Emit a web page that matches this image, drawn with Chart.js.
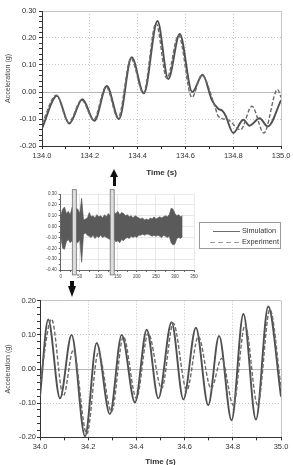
<!DOCTYPE html>
<html>
<head>
<meta charset="utf-8">
<script src="https://cdn.jsdelivr.net/npm/chart.js@4.4.0/dist/chart.umd.min.js"></script>
<style>
  html, body { margin: 0; padding: 0; background: #fff; }
  body { width: 293px; height: 465px; position: relative; overflow: hidden; font-family: "Liberation Sans", Arial, sans-serif; }
  canvas { position: absolute; left: 0; }
  #topChart { top: 0; }
  #overviewChart { top: 185px; }
  #bottomChart { top: 290px; }
  #legend { position: absolute; left: 199px; top: 222px; width: 80px; height: 25px; border: 1px solid #9a9a9a; background: #fff; will-change: transform; -webkit-font-smoothing: antialiased; }
  #legend .ln { position: absolute; left: 13px; width: 27px; height: 1px; }
  #legend .solid { top: 8px; background: #6a6a6a; }
  #legend .dash { top: 19px; left: 10px; width: 30px; background: repeating-linear-gradient(to right, #9a9a9a 0 5px, transparent 5px 8px); }
  #legend .tx { position: absolute; left: 42px; font-size: 7.3px; color: #333; line-height: 1; }
  .shaft { position: absolute; background: #111; }
  .head { position: absolute; width: 0; height: 0; border-left: 4.5px solid transparent; border-right: 4.5px solid transparent; }
  #upHead { left: 109.8px; top: 169px; border-bottom: 8px solid #111; }
  #upShaft { left: 112.6px; top: 176.5px; width: 3.4px; height: 9.5px; }
  #downShaft { left: 70.3px; top: 280.5px; width: 3.4px; height: 6px; }
  #downHead { left: 67.5px; top: 286px; border-top: 11px solid #111; }
</style>
</head>
<body>
<canvas id="topChart" width="293" height="185"></canvas>
<canvas id="overviewChart" width="200" height="100"></canvas>
<canvas id="bottomChart" width="293" height="180"></canvas>

<div id="legend">
  <div class="ln solid"></div><div class="tx" style="top:4px">Simulation</div>
  <div class="ln dash"></div><div class="tx" style="top:15px">Experiment</div>
</div>
<div class="head" id="upHead"></div><div class="shaft" id="upShaft"></div>
<div class="shaft" id="downShaft"></div><div class="head" id="downHead"></div>

<script>
// window 134-135 s (top chart), peaks and troughs
const topSimTime = [134.000, 134.0625, 134.114, 134.169, 134.219, 134.271, 134.322, 134.375, 134.426, 134.483, 134.528, 134.576, 134.628, 134.672, 134.710, 134.737, 134.755, 134.768, 134.800, 134.842, 134.868, 134.910, 134.944, 135.000];
const topSimAcc  = [-0.135, -0.014, -0.117, -0.027, -0.107, 0.022, -0.100, 0.129, -0.005, 0.263, 0.048, 0.215, 0.000, 0.064, -0.029, -0.062, -0.070, -0.088, -0.152, -0.103, -0.125, -0.097, -0.128, -0.030];
const topExpTime = [134.000, 134.060, 134.111, 134.166, 134.216, 134.268, 134.318, 134.372, 134.424, 134.477, 134.522, 134.571, 134.627, 134.668, 134.723, 134.737, 134.778, 134.830, 134.878, 134.928, 134.985, 135.000];
const topExpAcc  = [-0.117, -0.012, -0.113, -0.030, -0.103, 0.020, -0.097, 0.125, -0.004, 0.255, 0.050, 0.210, -0.020, 0.062, -0.053, -0.090, -0.103, -0.140, -0.053, -0.152, 0.009, -0.020];

// window 34-35 s (bottom chart)
const botSimTime = [34.000, 34.034, 34.083, 34.131, 34.187, 34.235, 34.290, 34.339, 34.394, 34.443, 34.491, 34.546, 34.595, 34.647, 34.698, 34.743, 34.795, 34.844, 34.896, 34.947, 35.000];
const botSimAcc  = [-0.081, 0.145, -0.086, 0.100, -0.197, 0.076, -0.132, 0.100, -0.098, 0.115, -0.086, 0.137, -0.089, 0.121, -0.106, 0.097, -0.150, 0.161, -0.148, 0.183, -0.081];
const botExpTime = [34.000, 34.048, 34.097, 34.138, 34.194, 34.242, 34.297, 34.346, 34.400, 34.449, 34.505, 34.553, 34.609, 34.657, 34.710, 34.754, 34.802, 34.851, 34.903, 34.954, 35.000];
const botExpAcc  = [-0.040, 0.146, -0.079, 0.056, -0.190, 0.048, -0.125, 0.095, -0.086, 0.105, -0.057, 0.134, -0.062, 0.095, -0.057, 0.031, -0.106, 0.129, -0.106, 0.174, -0.052];

// whole record (overview): envelope of the trace every 5 s
const overviewTime  = [0, 5, 10, 15, 20, 25, 30, 35, 40, 45, 50, 55, 60, 65, 70, 75, 80, 85, 90, 95, 100, 105, 110, 115, 120, 125, 130, 135, 140, 145, 150, 155, 160, 165, 170, 175, 180, 185, 190, 195, 200, 205, 210, 215, 220, 225, 230, 235, 240, 245, 250, 255, 260, 265, 270, 275, 280, 285, 290, 295, 300, 305, 310, 315, 320];
const overviewUpper = [0.10, 0.16, 0.18, 0.12, 0.14, 0.11, 0.18, 0.15, 0.17, 0.16, 0.12, 0.26, 0.06, 0.07, 0.08, 0.13, 0.09, 0.10, 0.08, 0.11, 0.09, 0.10, 0.08, 0.11, 0.09, 0.12, 0.10, 0.11, 0.13, 0.12, 0.14, 0.11, 0.13, 0.12, 0.10, 0.11, 0.09, 0.10, 0.08, 0.10, 0.09, 0.08, 0.07, 0.08, 0.06, 0.07, 0.06, 0.08, 0.07, 0.09, 0.07, 0.08, 0.09, 0.08, 0.09, 0.10, 0.09, 0.11, 0.17, 0.16, 0.12, 0.10, 0.11, 0.09, 0.10];
const overviewLower = [-0.09, -0.20, -0.21, -0.14, -0.12, -0.15, -0.13, -0.16, -0.14, -0.15, -0.12, -0.33, -0.07, -0.06, -0.08, -0.09, -0.10, -0.08, -0.11, -0.09, -0.10, -0.08, -0.10, -0.09, -0.10, -0.11, -0.12, -0.13, -0.12, -0.14, -0.13, -0.15, -0.12, -0.13, -0.11, -0.10, -0.11, -0.09, -0.10, -0.09, -0.10, -0.08, -0.08, -0.07, -0.08, -0.07, -0.07, -0.08, -0.09, -0.08, -0.09, -0.08, -0.09, -0.10, -0.08, -0.09, -0.10, -0.09, -0.15, -0.17, -0.16, -0.11, -0.10, -0.11, -0.09];
// time windows marked by the grey boxes
const zoomWindows = [[30.5, 41], [130, 140.5]];

Chart.defaults.font.family = "'Liberation Sans', Arial, sans-serif";

const GRID = "#c4c4c4";
const NONE = "rgba(0,0,0,0)";

function fmt(v, d) {
  if (Math.abs(v) < 1e-9) v = 0;
  return v.toFixed(d);
}

function createDetailChart(canvasId, simT, simA, expT, expA, cfg) {
  const ctx = document.getElementById(canvasId).getContext("2d");
  const xMajor = (v) => Math.round((v - cfg.xMin) * 10) % 2 === 0;
  const yMajor = (v) => Math.round(v * 100) % 10 === 0;
  return new Chart(ctx, {
    type: "line",
    data: {
      datasets: [
        {
          label: "Experiment",
          data: expT.map((t, i) => ({ x: t, y: expA[i] })),
          borderColor: "#6b6b6b",
          borderWidth: 1.4,
          borderDash: [4, 2],
          pointRadius: 0,
          cubicInterpolationMode: "monotone",
        },
        {
          label: "Simulation",
          data: simT.map((t, i) => ({ x: t, y: simA[i] })),
          borderColor: "#505050",
          borderWidth: 1.9,
          pointRadius: 0,
          cubicInterpolationMode: "monotone",
        },
      ],
    },
    options: {
      responsive: false,
      animation: false,
      layout: { padding: cfg.padding },
      plugins: { legend: { display: false }, tooltip: { enabled: false } },
      scales: {
        x: {
          type: "linear",
          min: cfg.xMin,
          max: cfg.xMax,
          afterFit: (s) => { s.height = cfg.xHeight; },
          ticks: {
            stepSize: 0.1,
            autoSkip: false,
            maxRotation: 0,
            padding: cfg.xTickPad,
            color: "#333",
            font: { size: 7.5 },
            callback: (v) => (xMajor(v) ? fmt(v, 1) : ""),
          },
          grid: {
            color: (c) => (c.tick && xMajor(c.tick.value) ? GRID : NONE),
            tickColor: "#333",
            tickLength: 3,
          },
          border: {
            color: "#333",
            dash: (c) => (c.tick && Math.abs(c.tick.value - cfg.xMax) > 1e-6 ? [1, 2] : []),
          },
          title: {
            display: true,
            text: "Time (s)",
            color: "#333",
            font: { size: 8, weight: "bold" },
            padding: { top: 0, bottom: cfg.xTitlePad },
          },
        },
        y: {
          min: cfg.yMin,
          max: cfg.yMax,
          afterFit: (s) => { s.width = cfg.yWidth; },
          ticks: {
            stepSize: 0.02,
            autoSkip: false,
            padding: cfg.yTickPad,
            color: "#333",
            font: { size: 7.5 },
            callback: (v) => (yMajor(v) ? fmt(v, 2) : ""),
          },
          grid: {
            color: (c) => {
              if (!c.tick || !yMajor(c.tick.value)) return NONE;
              return Math.abs(c.tick.value) < 1e-9 ? "#b8b8b8" : GRID;
            },
            tickColor: "#333",
            tickLength: 3,
          },
          border: {
            color: "#333",
            dash: (c) => {
              if (!c.tick) return [];
              const v = c.tick.value;
              return Math.abs(v) < 1e-9 || Math.abs(v - cfg.yMax) < 1e-6 ? [] : [1, 2];
            },
          },
          title: {
            display: true,
            text: "Acceleration (g)",
            color: "#444",
            font: { size: 7 },
            padding: { top: 4, bottom: 0 },
          },
        },
      },
    },
  });
}

const highlightBoxes = {
  id: "highlightBoxes",
  afterDraw(chart) {
    const { ctx, scales: { x, y } } = chart;
    ctx.save();
    ctx.fillStyle = "#dedede";
    ctx.strokeStyle = "#707070";
    ctx.lineWidth = 0.8;
    const yTop = y.getPixelForValue(0.34);
    const yBot = y.getPixelForValue(-0.445);
    zoomWindows.forEach(([t0, t1]) => {
      const x0 = x.getPixelForValue(t0);
      const x1 = x.getPixelForValue(t1);
      ctx.fillRect(x0, yTop, x1 - x0, yBot - yTop);
      ctx.strokeRect(x0, yTop, x1 - x0, yBot - yTop);
    });
    ctx.restore();
  },
};

function createOverviewChart(canvasId) {
  const ctx = document.getElementById(canvasId).getContext("2d");
  return new Chart(ctx, {
    type: "line",
    data: {
      datasets: [
        {
          data: overviewTime.map((t, i) => ({ x: t, y: overviewUpper[i] })),
          borderColor: "#555",
          borderWidth: 0.6,
          backgroundColor: "#5a5a5a",
          fill: "+1",
          pointRadius: 0,
        },
        {
          data: overviewTime.map((t, i) => ({ x: t, y: overviewLower[i] })),
          borderColor: "#555",
          borderWidth: 0.6,
          pointRadius: 0,
          fill: false,
        },
      ],
    },
    options: {
      responsive: false,
      animation: false,
      layout: { padding: { top: 9, right: 6, left: 0, bottom: 0 } },
      plugins: { legend: { display: false }, tooltip: { enabled: false } },
      scales: {
        x: {
          type: "linear",
          min: 0,
          max: 350,
          afterFit: (s) => { s.height = 15; },
          ticks: {
            stepSize: 25,
            autoSkip: false,
            maxRotation: 0,
            padding: 2,
            color: "#444",
            font: { size: 4.5 },
            callback: (v) => (v % 50 === 0 ? String(v) : ""),
          },
          grid: {
            color: (c) => (c.tick && c.tick.value % 50 === 0 ? "#e2e2e2" : NONE),
            tickColor: "#444",
            tickLength: 2,
            lineWidth: 0.8,
          },
          border: { color: "#444", width: 0.8 },
        },
        y: {
          min: -0.4,
          max: 0.3,
          afterFit: (s) => { s.width = 60.7; },
          ticks: {
            stepSize: 0.05,
            autoSkip: false,
            padding: 2,
            color: "#444",
            font: { size: 4.5 },
            callback: (v) => (Math.round(v * 100) % 10 === 0 ? fmt(v, 2) : ""),
          },
          grid: {
            color: (c) => (c.tick && Math.round(c.tick.value * 100) % 10 === 0 ? "#e2e2e2" : NONE),
            tickColor: "#444",
            tickLength: 2,
            lineWidth: 0.8,
          },
          border: { color: "#444", width: 0.8 },
        },
      },
    },
    plugins: [highlightBoxes],
  });
}

createDetailChart("topChart", topSimTime, topSimAcc, topExpTime, topExpAcc, {
  xMin: 134, xMax: 135, yMin: -0.2, yMax: 0.3,
  padding: { top: 11, right: 10, left: 0, bottom: 0 },
  yWidth: 42, xHeight: 39, xTickPad: 2.5, yTickPad: 2.5, xTitlePad: 7,
});
createOverviewChart("overviewChart");
createDetailChart("bottomChart", botSimTime, botSimAcc, botExpTime, botExpAcc, {
  xMin: 34, xMax: 35, yMin: -0.2, yMax: 0.2,
  padding: { top: 10.7, right: 12, left: 0, bottom: 0 },
  yWidth: 40, xHeight: 32.7, xTickPad: 2, yTickPad: 1, xTitlePad: 3.5,
});
</script>
</body>
</html>
